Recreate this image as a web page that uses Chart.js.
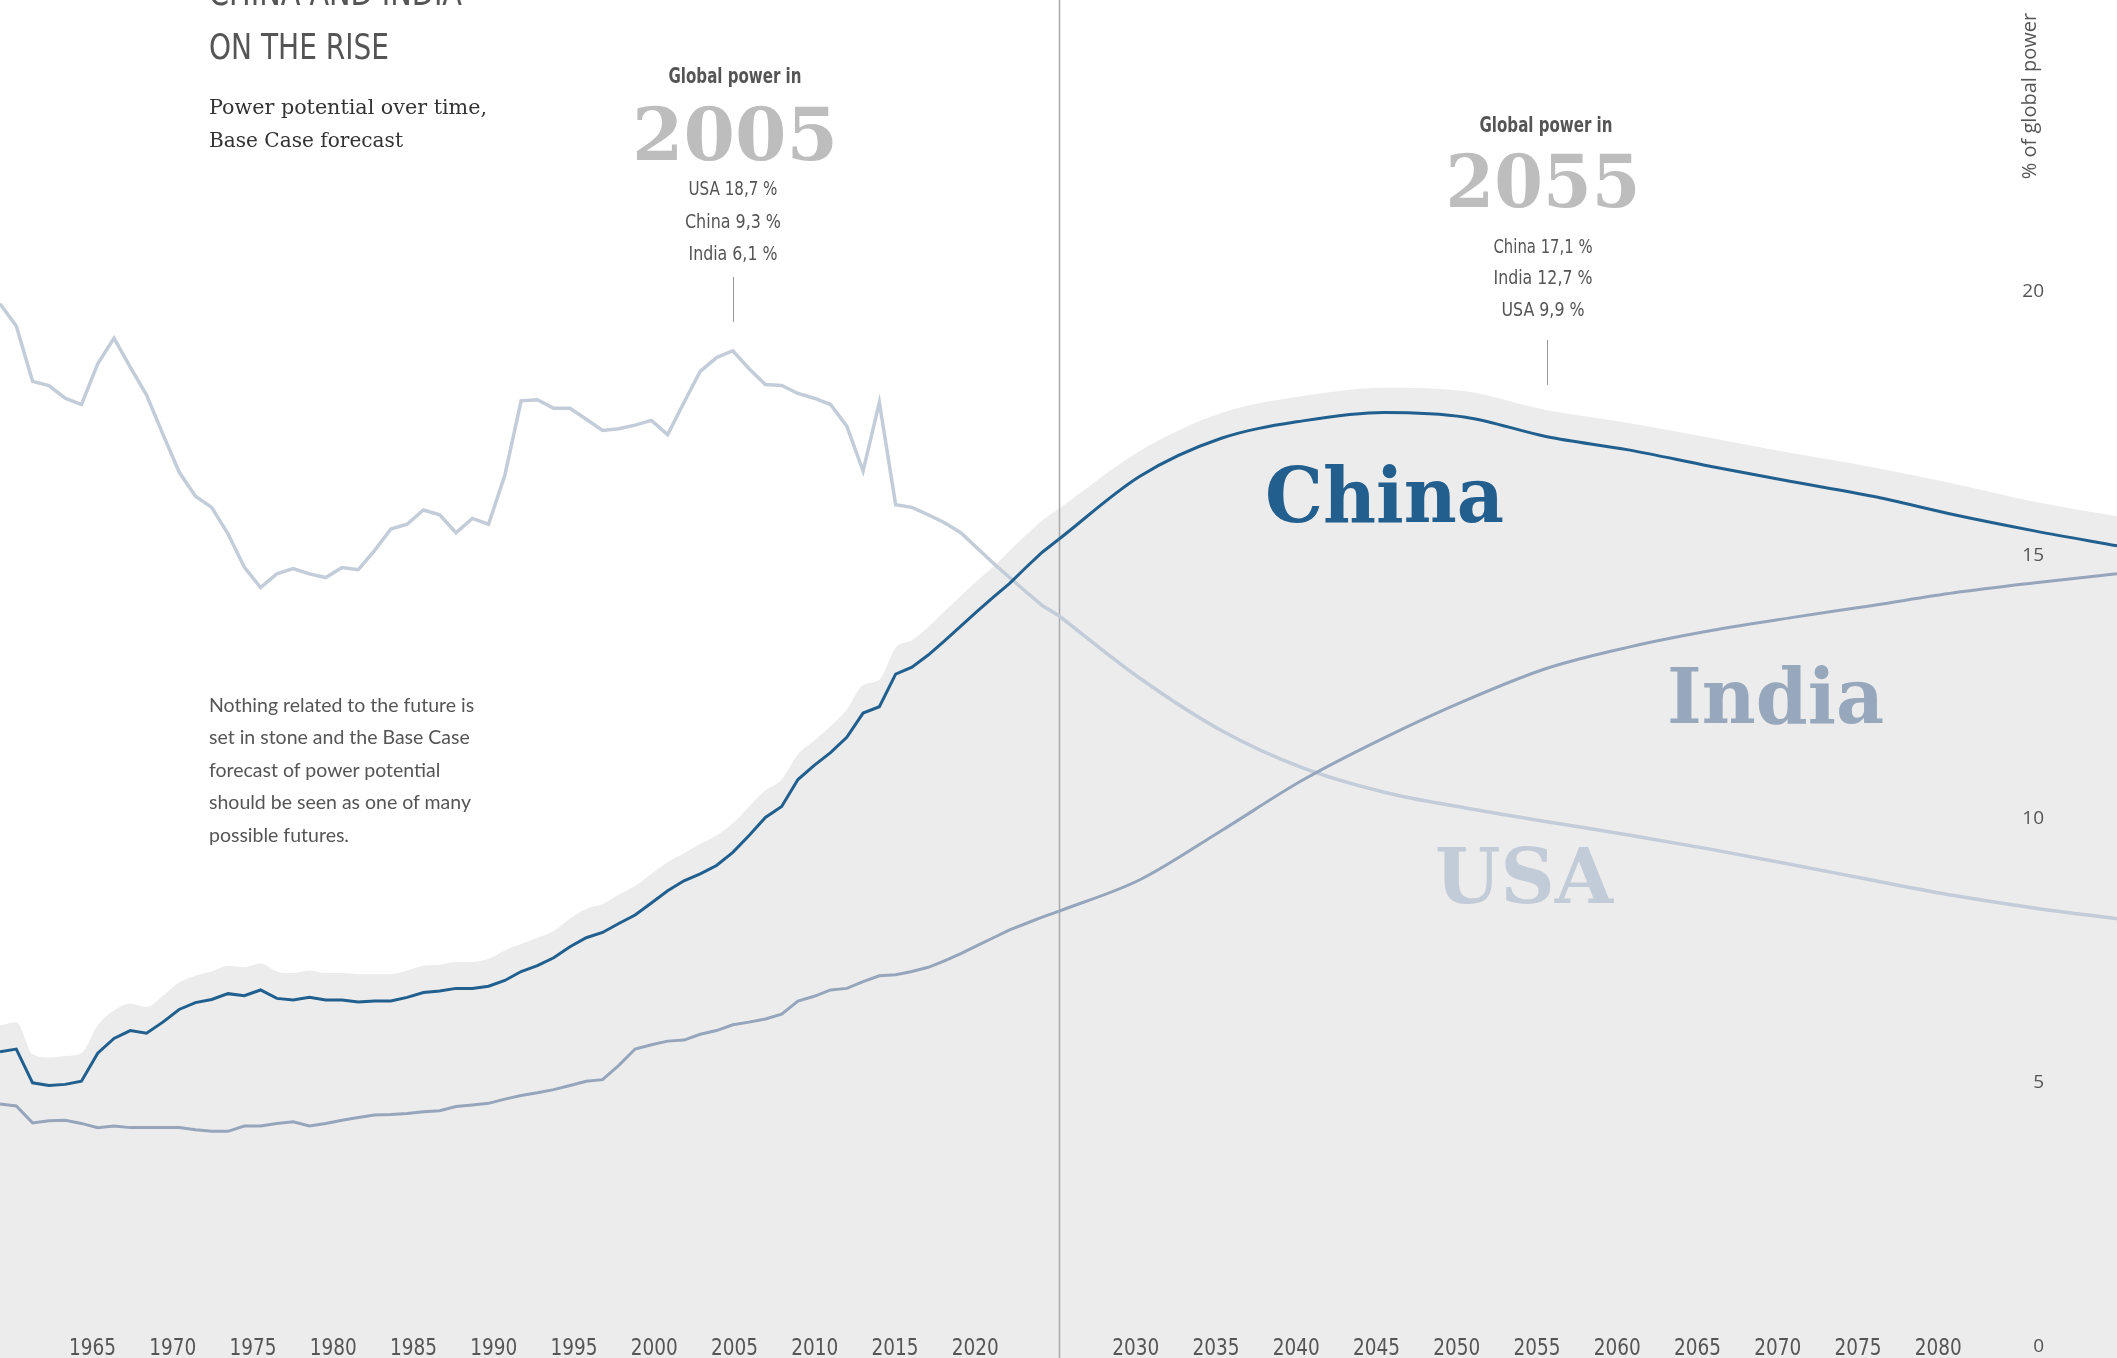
<!DOCTYPE html>
<html>
<head>
<meta charset="utf-8">
<title>China and India on the rise</title>
<script src="https://cdn.jsdelivr.net/npm/chart.js@4.4.1/dist/chart.umd.min.js"></script>
<style>
  html, body { margin: 0; padding: 0; background: #fff; }
  #wrap { position: relative; width: 2117px; height: 1358px; overflow: hidden; }
  #chart, #labels { position: absolute; left: 0; top: 0; }
  .narrow { font-family: 'Liberation Sans Narrow', 'DejaVu Sans Condensed', sans-serif; fill: #555; }
  .title { font-size: 36px; }
  .gp { font-size: 21px; font-weight: bold; }
  .row { font-size: 20px; }
  .sub { font-family: 'DejaVu Serif', serif; font-size: 21px; fill: #333; }
  .yr { font-family: 'DejaVu Serif', serif; font-weight: bold; font-size: 72px; fill: #bdbdbd; }
  .note { font-family: Lato, 'Noto Sans', sans-serif; font-size: 19.5px; fill: #555; }
  .axt { font-family: 'Open Sans', sans-serif; font-size: 20px; fill: #555; }
  .big { font-family: 'DejaVu Serif', serif; font-weight: bold; font-size: 77px; }
</style>
</head>
<body>
<div id="wrap">
  <canvas id="chart" width="2117" height="1358"></canvas>
  <svg id="labels" width="2117" height="1358">
    <text class="narrow title" x="209" y="5" textLength="253" lengthAdjust="spacingAndGlyphs">CHINA AND INDIA</text>
    <text class="narrow title" x="209" y="59" textLength="180" lengthAdjust="spacingAndGlyphs">ON THE RISE</text>
    <text class="sub" x="209" y="114" textLength="278" lengthAdjust="spacingAndGlyphs">Power potential over time,</text>
    <text class="sub" x="209" y="146.5" textLength="194" lengthAdjust="spacingAndGlyphs">Base Case forecast</text>

    <text class="narrow gp" x="735" y="83" text-anchor="middle" textLength="133" lengthAdjust="spacingAndGlyphs">Global power in</text>
    <text class="yr" x="735" y="160" text-anchor="middle" textLength="206" lengthAdjust="spacingAndGlyphs">2005</text>
    <text class="narrow row" x="733" y="195" text-anchor="middle" textLength="89" lengthAdjust="spacingAndGlyphs">USA 18,7 %</text>
    <text class="narrow row" x="733" y="227.5" text-anchor="middle" textLength="96" lengthAdjust="spacingAndGlyphs">China 9,3 %</text>
    <text class="narrow row" x="733" y="259.5" text-anchor="middle" textLength="89" lengthAdjust="spacingAndGlyphs">India 6,1 %</text>

    <text class="narrow gp" x="1546" y="132" text-anchor="middle" textLength="133" lengthAdjust="spacingAndGlyphs">Global power in</text>
    <text class="yr" x="1543" y="207" text-anchor="middle" textLength="195" lengthAdjust="spacingAndGlyphs">2055</text>
    <text class="narrow row" x="1543" y="252.5" text-anchor="middle" textLength="99" lengthAdjust="spacingAndGlyphs">China 17,1 %</text>
    <text class="narrow row" x="1543" y="284" text-anchor="middle" textLength="99" lengthAdjust="spacingAndGlyphs">India 12,7 %</text>
    <text class="narrow row" x="1543" y="316" text-anchor="middle" textLength="83" lengthAdjust="spacingAndGlyphs">USA 9,9 %</text>

    <text class="note" x="209" y="712">Nothing related to the future is</text>
    <text class="note" x="209" y="744.4">set in stone and the Base Case</text>
    <text class="note" x="209" y="776.8">forecast of power potential</text>
    <text class="note" x="209" y="809.2">should be seen as one of many</text>
    <text class="note" x="209" y="841.6">possible futures.</text>

    <text class="axt" transform="translate(2036,96) rotate(-90)" text-anchor="middle">% of global power</text>

    <text class="big" x="1265" y="522" fill="#225f8e" textLength="239" lengthAdjust="spacingAndGlyphs">China</text>
    <text class="big" x="1667" y="723" fill="#97a8bd" textLength="217" lengthAdjust="spacingAndGlyphs">India</text>
    <text class="big" x="1435" y="903" fill="#c2cbd8" textLength="178" lengthAdjust="spacingAndGlyphs">USA</text>
  </svg>
</div>
<script>
// observed years 1960-2025, yearly
const histYears = [
  1960, 1961, 1962, 1963, 1964, 1965, 1966, 1967, 1968, 1969,
  1970, 1971, 1972, 1973, 1974, 1975, 1976, 1977, 1978, 1979,
  1980, 1981, 1982, 1983, 1984, 1985, 1986, 1987, 1988, 1989,
  1990, 1991, 1992, 1993, 1994, 1995, 1996, 1997, 1998, 1999,
  2000, 2001, 2002, 2003, 2004, 2005, 2006, 2007, 2008, 2009,
  2010, 2011, 2012, 2013, 2014, 2015, 2016, 2017, 2018, 2019,
  2020, 2021, 2022, 2023, 2024, 2025
];
// forecast years, read every 5 years
const forecastYears = [2025, 2030, 2035, 2040, 2045, 2050, 2055, 2060, 2065, 2070, 2075, 2080, 2085, 2090];

const chinaHist = [
  5.59, 5.64, 5.00, 4.95, 4.97, 5.03, 5.56, 5.84, 5.99, 5.94,
  6.15, 6.39, 6.52, 6.58, 6.69, 6.65, 6.76, 6.60, 6.57, 6.62,
  6.57, 6.57, 6.53, 6.55, 6.55, 6.62, 6.71, 6.74, 6.79, 6.79,
  6.83, 6.94, 7.11, 7.22, 7.37, 7.58, 7.75, 7.85, 8.02, 8.18,
  8.41, 8.64, 8.83, 8.96, 9.12, 9.37, 9.69, 10.03, 10.24, 10.75,
  11.02, 11.26, 11.55, 12.01, 12.13, 12.75, 12.88, 13.11, 13.38, 13.66,
  13.94, 14.21, 14.47, 14.77, 15.06, 15.30
];
const usaHist = [
  19.77, 19.35, 18.30, 18.22, 17.98, 17.86, 18.63, 19.12, 18.57, 18.04,
  17.30, 16.58, 16.12, 15.91, 15.41, 14.78, 14.39, 14.65, 14.75, 14.65,
  14.58, 14.77, 14.73, 15.09, 15.50, 15.59, 15.86, 15.77, 15.43, 15.70,
  15.59, 16.52, 17.93, 17.95, 17.79, 17.79, 17.58, 17.37, 17.40, 17.47,
  17.56, 17.29, 17.90, 18.49, 18.75, 18.88, 18.54, 18.24, 18.22, 18.07,
  17.98, 17.86, 17.45, 16.60, 17.90, 15.96, 15.91, 15.77, 15.62, 15.43,
  15.14, 14.85, 14.58, 14.31, 14.05, 13.86
];
const indiaHist = [
  4.60, 4.56, 4.24, 4.28, 4.29, 4.23, 4.15, 4.18, 4.15, 4.15,
  4.15, 4.15, 4.11, 4.08, 4.08, 4.18, 4.18, 4.23, 4.26, 4.18,
  4.23, 4.29, 4.34, 4.39, 4.40, 4.42, 4.45, 4.47, 4.55, 4.58,
  4.61, 4.69, 4.76, 4.81, 4.87, 4.95, 5.03, 5.06, 5.33, 5.64,
  5.72, 5.79, 5.81, 5.92, 5.99, 6.10, 6.15, 6.21, 6.30, 6.55,
  6.64, 6.76, 6.79, 6.92, 7.03, 7.05, 7.11, 7.19, 7.31, 7.45,
  7.60, 7.75, 7.90, 8.02, 8.14, 8.25
];

const chinaForecast = [15.30, 16.50, 17.22, 17.55, 17.71, 17.62, 17.25, 17.00, 16.69, 16.40, 16.12, 15.77, 15.46, 15.18];
const usaForecast = [13.86, 12.67, 11.68, 10.97, 10.51, 10.21, 9.95, 9.70, 9.43, 9.14, 8.84, 8.55, 8.31, 8.11];
const indiaForecast = [8.25, 8.85, 9.78, 10.74, 11.54, 12.25, 12.86, 13.26, 13.57, 13.82, 14.05, 14.29, 14.48, 14.65];

// light grey band sitting just above the China line
const bandYears = histYears.slice(0, 65).concat(forecastYears);
const bandValues = [
  6.09, 6.15, 5.54, 5.48, 5.51, 5.56, 6.09, 6.37, 6.50, 6.44,
  6.65, 6.90, 7.03, 7.11, 7.22, 7.19, 7.26, 7.11, 7.08, 7.13,
  7.08, 7.08, 7.06, 7.06, 7.06, 7.13, 7.22, 7.24, 7.29, 7.29,
  7.35, 7.51, 7.63, 7.75, 7.88, 8.11, 8.30, 8.39, 8.57, 8.73,
  8.96, 9.18, 9.35, 9.53, 9.69, 9.92, 10.24, 10.54, 10.75, 11.23,
  11.49, 11.76, 12.08, 12.54, 12.64, 13.25, 13.39, 13.64, 13.94, 14.23,
  14.52, 14.79, 15.09, 15.38, 15.66,
  15.88, 16.98, 17.70, 18.02, 18.18, 18.11, 17.75, 17.51, 17.23, 16.94, 16.67, 16.36, 16.01, 15.74
];

const xTickYears = [1965, 1970, 1975, 1980, 1985, 1990, 1995, 2000, 2005, 2010, 2015, 2020,
  2030, 2035, 2040, 2045, 2050, 2055, 2060, 2065, 2070, 2075, 2080];
const yTickValues = [0, 5, 10, 15, 20];
const forecastStart = 2025;
const markerYears = [2005, 2055];

function pts(xs, ys) {
  return xs.map((x, i) => ({ x: x, y: ys[i] }));
}

function line(label, xs, ys, color, width, order, smooth) {
  return {
    label: label,
    data: pts(xs, ys),
    borderColor: color,
    borderWidth: width,
    pointRadius: 0,
    fill: false,
    order: order,
    tension: 0,
    cubicInterpolationMode: smooth ? 'monotone' : 'default'
  };
}

const overlay = {
  id: 'overlay',
  afterDatasetDraw(chart, args) {
    // separator between history and forecast, drawn right after the band
    if (chart.data.datasets[args.index].label !== 'band') return;
    const { ctx, scales: { x } } = chart;
    const sx = Math.round(x.getPixelForValue(forecastStart)) + 0.5;
    ctx.save();
    ctx.strokeStyle = '#a9a9a9';
    ctx.lineWidth = 1.5;
    ctx.beginPath();
    ctx.moveTo(sx, 0);
    ctx.lineTo(sx, chart.height);
    ctx.stroke();
    ctx.restore();
  },
  afterDatasetsDraw(chart) {
    const { ctx, scales: { x, y, xLabel } } = chart;
    ctx.save();
    // leader lines under the "Global power in" notes
    ctx.strokeStyle = '#999';
    ctx.lineWidth = 1;
    const spans = [[277, 322], [340, 385]];
    markerYears.forEach((yr, i) => {
      const mx = Math.round(x.getPixelForValue(yr)) + 0.5;
      ctx.beginPath();
      ctx.moveTo(mx, spans[i][0]);
      ctx.lineTo(mx, spans[i][1]);
      ctx.stroke();
    });

    ctx.fillStyle = '#555';
    ctx.font = "23px 'Liberation Sans Narrow', 'DejaVu Sans Condensed', sans-serif";
    ctx.textAlign = 'center';
    ctx.textBaseline = 'alphabetic';
    const base = y.getPixelForValue(0) + 8;
    xTickYears.forEach(t => ctx.fillText(String(t), xLabel.getPixelForValue(t), base, 47));

    ctx.font = "19px 'Open Sans', sans-serif";
    ctx.textAlign = 'right';
    ctx.textBaseline = 'middle';
    yTickValues.forEach(v => ctx.fillText(String(v), 2044, y.getPixelForValue(v)));
    ctx.restore();
  }
};

new Chart(document.getElementById('chart'), {
  type: 'line',
  data: {
    datasets: [
      line('China', histYears, chinaHist, '#215f8e', 3, 1, false),
      line('China forecast', forecastYears, chinaForecast, '#215f8e', 3, 1, true),
      line('India', histYears, indiaHist, '#95a6bc', 3, 2, false),
      line('India forecast', forecastYears, indiaForecast, '#95a6bc', 3, 2, true),
      line('USA', histYears, usaHist, '#c3ccd9', 3.5, 3, false),
      line('USA forecast', forecastYears, usaForecast, '#c3ccd9', 3.5, 3, true),
      {
        label: 'band',
        data: pts(bandYears, bandValues),
        borderWidth: 0,
        borderColor: 'rgba(0,0,0,0)',
        backgroundColor: '#ececec',
        pointRadius: 0,
        fill: 'start',
        order: 10,
        cubicInterpolationMode: 'monotone'
      }
    ]
  },
  options: {
    responsive: false,
    animation: false,
    devicePixelRatio: 1,
    layout: { padding: 0 },
    plugins: {
      legend: { display: false },
      tooltip: { enabled: false }
    },
    scales: {
      x: { type: 'linear', display: false, min: 1960, max: 2090 },
      xLabel: { type: 'linear', axis: 'x', display: false, min: 1959.23, max: 2091.13 },
      y: { type: 'linear', display: false, min: -0.218, max: 25.53 }
    }
  },
  plugins: [overlay]
});
</script>
</body>
</html>
